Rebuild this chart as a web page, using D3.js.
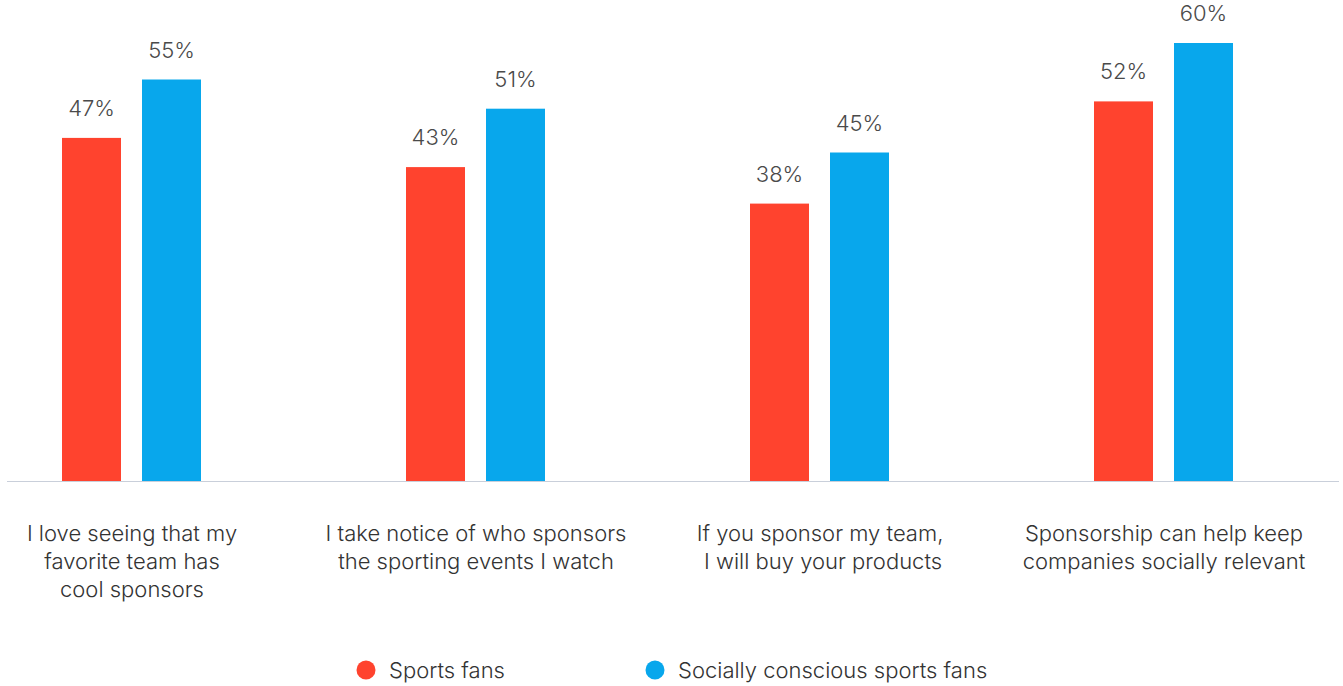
<!DOCTYPE html>
<html>
<head>
<meta charset="utf-8">
<script src="https://cdn.jsdelivr.net/npm/d3@7"></script>
<style>
  body { margin: 0; background: #fff; }
  svg { display: block; font-family: Inter, Roboto, sans-serif; }
</style>
</head>
<body>
<div id="chart"></div>
<script>
// chart data
const categories = [
    "I love seeing that my\nfavorite team has\ncool sponsors",
    "I take notice of who sponsors\nthe sporting events I watch",
    "If you sponsor my team,\n I will buy your products",
    "Sponsorship can help keep\ncompanies socially relevant"
];
const seriesNames = ["Sports fans", "Socially conscious sports fans"];
const sportsFans = [47, 43, 38, 52];
const sociallyConscious = [55, 51, 45, 60];
const seriesColors = ["#ff432e", "#08a7ec"];

const width = 1343, height = 686;
const baseline = 481;

let svg = d3.select("#chart").append("svg")
    .attr("width", width)
    .attr("height", height);

let x0 = d3.scalePoint().domain(categories).range([132, 1164]);
let x1 = d3.scaleBand().domain(seriesNames).range([-70, 70]).paddingInner(0.25);
let y = d3.scaleLinear().domain([0, 60]).range([baseline, 43]);

let rows = categories.map((c, i) => ({
    category: c,
    values: [sportsFans[i], sociallyConscious[i]]
}));

// baseline
svg.append("line")
    .attr("x1", 7).attr("x2", 1339)
    .attr("y1", baseline + 0.5).attr("y2", baseline + 0.5)
    .attr("stroke", "#c9cfda")
    .attr("stroke-width", 1.2);

let groups = svg.selectAll("g.group")
    .data(rows)
    .enter().append("g")
    .attr("class", "group")
    .attr("transform", d => "translate(" + x0(d.category) + ",0)");

groups.selectAll("rect")
    .data(d => d.values.map((v, j) => ({ name: seriesNames[j], value: v, idx: j })))
    .enter().append("rect")
    .attr("x", d => x1(d.name))
    .attr("width", x1.bandwidth() - 1)
    .attr("y", d => y(d.value))
    .attr("height", d => baseline - y(d.value))
    .attr("fill", d => seriesColors[d.idx]);

groups.selectAll("text.value")
    .data(d => d.values.map((v, j) => ({ name: seriesNames[j], value: v })))
    .enter().append("text")
    .attr("class", "value")
    .attr("x", d => x1(d.name) + (x1.bandwidth() - 1) / 2)
    .attr("y", d => y(d.value) - 22)
    .attr("text-anchor", "middle")
    .attr("font-size", 22)
    .attr("font-weight", 300)
    .attr("fill", "#4a4a4a")
    .text(d => d.value + "%");

// category labels under the axis
groups.append("text")
    .attr("class", "cat")
    .attr("text-anchor", "middle")
    .attr("font-size", 22)
    .attr("font-weight", 300)
    .attr("fill", "#333")
    .selectAll("tspan")
    .data(d => d.category.split("\n"))
    .enter().append("tspan")
    .attr("x", 0)
    .attr("y", (d, i) => 541 + i * 28)
    .attr("xml:space", "preserve")
    .text(d => d);

// legend
let legend = svg.append("g");
let legendX = [366, 655];
seriesNames.forEach((name, i) => {
    legend.append("circle")
        .attr("cx", legendX[i]).attr("cy", 670)
        .attr("r", 9.5)
        .attr("fill", seriesColors[i]);
    legend.append("text")
        .attr("x", legendX[i] + 23).attr("y", 678)
        .attr("font-size", 22)
        .attr("font-weight", 300)
        .attr("fill", "#333")
        .text(name);
});
</script>
</body>
</html>
